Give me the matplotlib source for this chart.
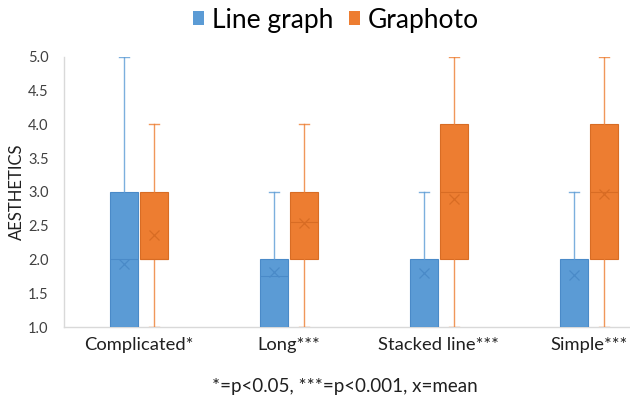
import matplotlib.pyplot as plt
from matplotlib.patches import Patch

plt.rcParams['font.family'] = ['Lato', 'DejaVu Sans']

# Data
categories = ['Complicated*', 'Long***', 'Stacked line***', 'Simple***']
series = ['Line graph', 'Graphoto']

line_min = [1.0, 1.0, 1.0, 1.0]
line_q1 = [1.0, 1.0, 1.0, 1.0]
line_med = [2.0, 1.75, 1.0, 1.0]
line_q3 = [3.0, 2.0, 2.0, 2.0]
line_max = [5.0, 3.0, 3.0, 3.0]
line_mean = [1.93, 1.82, 1.80, 1.77]

photo_min = [1.0, 1.0, 1.0, 1.0]
photo_q1 = [2.0, 2.0, 2.0, 2.0]
photo_med = [2.0, 2.55, 3.0, 3.0]
photo_q3 = [3.0, 3.0, 4.0, 4.0]
photo_max = [4.0, 4.0, 5.0, 5.0]
photo_mean = [2.36, 2.54, 2.89, 2.97]

blue = '#5B9BD5'
blue_edge = '#4A8AC8'
orange = '#ED7D31'
orange_edge = '#D86C24'


def make_stats(mins, q1s, meds, q3s, maxs, means):
    return [dict(whislo=a, q1=b, med=c, q3=d, whishi=e, mean=f, fliers=[])
            for a, b, c, d, e, f in zip(mins, q1s, meds, q3s, maxs, means)]


fig = plt.figure(figsize=(6.3, 4.01), dpi=100)
ax = fig.add_axes([0.1016, 0.1845, 0.952, 0.6735])

x = list(range(len(categories)))
width = 0.19
offset = 0.1

for stats, color, edge, shift in [
        (make_stats(line_min, line_q1, line_med, line_q3, line_max, line_mean), blue, blue_edge, -offset),
        (make_stats(photo_min, photo_q1, photo_med, photo_q3, photo_max, photo_mean), orange, orange_edge, offset)]:
    ax.bxp(stats, positions=[p + shift for p in x], widths=width,
           patch_artist=True, showmeans=True, showfliers=False,
           boxprops=dict(facecolor=color, edgecolor=edge, linewidth=0.8),
           medianprops=dict(color=edge, linewidth=0.8),
           whiskerprops=dict(color=color, linewidth=1.0, alpha=0.8),
           capprops=dict(color=color, linewidth=1.0, alpha=0.8),
           capwidths=0.065,
           meanprops=dict(marker='x', markeredgecolor=edge, markersize=7,
                          markeredgewidth=0.9, linestyle='none'),
           zorder=3)

ax.set_xlim(-0.5, len(categories) - 0.5)
ax.set_ylim(1.0, 5.0)
ax.set_yticks([1.0 + 0.5 * i for i in range(9)])
ax.set_yticklabels([f'{1.0 + 0.5 * i:.1f}' for i in range(9)], fontsize=10.5, color='#404040')
ax.set_xticks(x)
ax.set_xticklabels(categories, fontsize=13.2, color='#202020')
ax.tick_params(axis='y', length=0, pad=11)
ax.tick_params(axis='x', length=0, pad=7)

for side in ['top', 'right']:
    ax.spines[side].set_visible(False)
for side in ['left', 'bottom']:
    ax.spines[side].set_color('#D9D9D9')
    ax.spines[side].set_linewidth(1.0)

ax.set_ylabel('AESTHETICS', fontsize=12, color='#202020', labelpad=2)

handles = [Patch(facecolor=blue, edgecolor='none', label=series[0]),
           Patch(facecolor=orange, edgecolor='none', label=series[1])]
fig.legend(handles=handles, loc='center', bbox_to_anchor=(0.533, 0.95), ncol=2,
           frameon=False, fontsize=19, handlelength=0.42, handleheight=0.42,
           handletextpad=0.3, columnspacing=0.6, borderpad=0)

fig.text(0.548, 0.035, '*=p<0.05, ***=p<0.001, x=mean', ha='center', va='center',
         fontsize=13.5, color='#202020')

fig.savefig('out.png', dpi=100, facecolor='white')
